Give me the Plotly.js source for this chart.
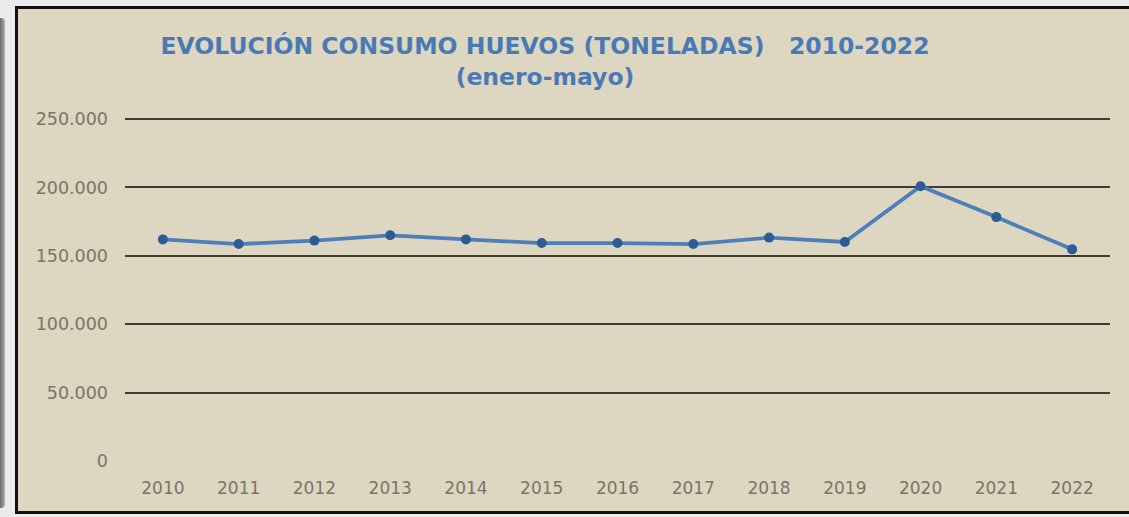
<!DOCTYPE html>
<html>
<head>
<meta charset="utf-8">
<script src="https://cdn.plot.ly/plotly-3.0.1.min.js"></script>
<style>
  html, body { margin: 0; padding: 0; background: #ebebeb; overflow: hidden; width: 1129px; height: 517px; }
  #edge { position: absolute; left: 0; top: 18px; width: 5px; height: 490px; background: linear-gradient(to right, #6a6a6a, #b0b0b0); border-radius: 0 4px 4px 0; }
  #chart { position: absolute; left: 15px; top: 6px; width: 1113px; height: 502px; border: 3px solid #111; background: #ddd7c1; }
</style>
</head>
<body>
<div id="edge"></div>
<div id="chart"></div>
<script>
const years = ["2010","2011","2012","2013","2014","2015","2016","2017","2018","2019","2020","2021","2022"];
const consumo = [162000, 158600, 161100, 165000, 162000, 159300, 159300, 158600, 163300, 160100, 200900, 178300, 154700];
const yTicks = [0, 50000, 100000, 150000, 200000, 250000];
const titleLine1 = "EVOLUCIÓN CONSUMO HUEVOS (TONELADAS)   2010-2022";
const titleLine2 = "(enero-mayo)";

const trace = {
  x: years,
  y: consumo,
  type: "scatter",
  mode: "lines+markers",
  line: { color: "#4f7fba", width: 3.8 },
  marker: { color: "#2d5b96", size: 10 },
  hoverinfo: "skip"
};

// plot height 344 px, 342 px correspond to 250.000 (so the top gridline is drawn)
const yMax = 344 * 250000 / 342;

const layout = {
  width: 1113,
  height: 502,
  paper_bgcolor: "#ddd7c1",
  plot_bgcolor: "#ddd7c1",
  separators: ",.",
  margin: { l: 107, r: 21, t: 108, b: 50 },
  showlegend: false,
  title: {
    text: "<b>" + titleLine1.replace(/ {3}/, "&nbsp;&nbsp;&nbsp;") + "</b><br><b>" + titleLine2 + "</b>",
    font: { family: "DejaVu Sans", size: 23.5, color: "#4a7ab5", lineposition: "none" },
    xref: "container", x: 0.4735, xanchor: "center",
    yref: "container", y: 0.91, yanchor: "top"
  },
  xaxis: {
    type: "category",
    range: [-0.5, 12.5],
    showgrid: false,
    zeroline: false,
    showline: false,
    ticks: "",
    ticklabelstandoff: 15,
    tickfont: { family: "DejaVu Sans", size: 17, color: "#7a7565" },
    fixedrange: true
  },
  yaxis: {
    range: [0, yMax],
    tickvals: yTicks,
    tickformat: ",d",
    showgrid: true,
    gridcolor: "#403b35",
    gridwidth: 2,
    zeroline: true,
    zerolinecolor: "#ddd7c1",
    zerolinewidth: 3,
    showline: false,
    ticks: "",
    ticklabelstandoff: 16,
    tickfont: { family: "DejaVu Sans", size: 17.5, color: "#7a7565" },
    fixedrange: true
  }
};

Plotly.newPlot("chart", [trace], layout, { staticPlot: true, displayModeBar: false });
</script>
</body>
</html>
